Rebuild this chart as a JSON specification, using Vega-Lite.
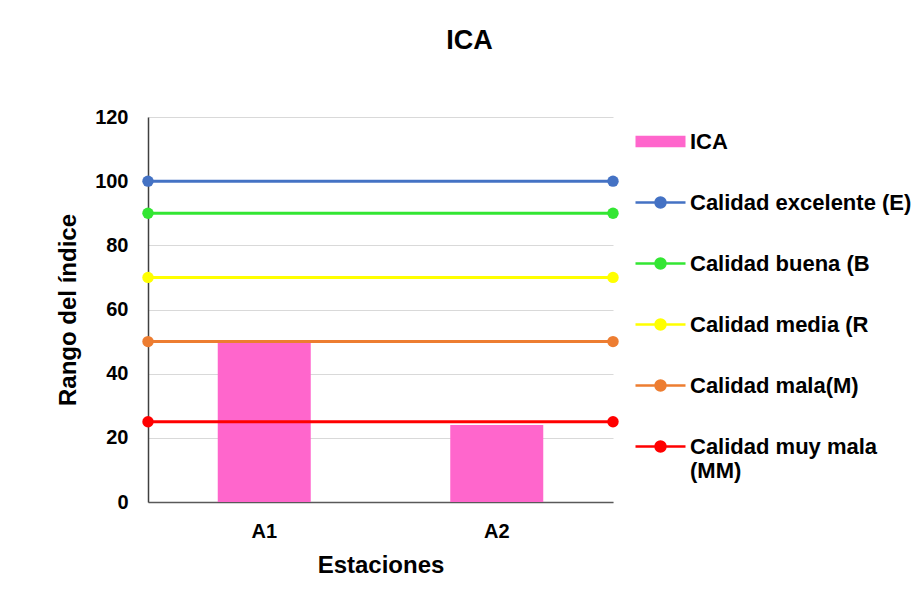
{
  "$schema": "https://vega.github.io/schema/vega-lite/v6.json",
  "width": 465,
  "height": 385,
  "autosize": {"type": "none"},
  "padding": {"left": 148, "top": 117, "right": 304, "bottom": 88},
  "background": "white",
  "config": {
    "font": "Liberation Sans",
    "view": {"stroke": null},
    "axis": {"labelFont": "Liberation Sans", "titleFont": "Liberation Sans", "labelFontWeight": "bold", "titleFontWeight": "bold", "labelColor": "#000000", "titleColor": "#000000", "ticks": false}
  },
  "title": {"text": "ICA", "font": "Liberation Sans", "fontSize": 27, "fontWeight": "bold", "color": "#000000", "anchor": "middle", "dx": 89, "offset": 52},
  "datasets": {
    "barras": [
      {"estacion": "A1", "valor": 50, "serie": "ICA"},
      {"estacion": "A2", "valor": 24, "serie": "ICA"}
    ],
    "lineas": [
      {"pos": 0, "valor": 100, "serie": "Calidad excelente (E)"},
      {"pos": 1, "valor": 100, "serie": "Calidad excelente (E)"},
      {"pos": 0, "valor": 90, "serie": "Calidad buena (B"},
      {"pos": 1, "valor": 90, "serie": "Calidad buena (B"},
      {"pos": 0, "valor": 70, "serie": "Calidad media (R"},
      {"pos": 1, "valor": 70, "serie": "Calidad media (R"},
      {"pos": 0, "valor": 50, "serie": "Calidad mala(M)"},
      {"pos": 1, "valor": 50, "serie": "Calidad mala(M)"},
      {"pos": 0, "valor": 25, "serie": "Calidad muy mala (MM)"},
      {"pos": 1, "valor": 25, "serie": "Calidad muy mala (MM)"}
    ]
  },
  "layer": [
    {
      "data": {"name": "barras"},
      "mark": {"type": "bar"},
      "encoding": {
        "x": {"field": "estacion", "type": "nominal", "scale": {"paddingInner": 0.6, "paddingOuter": 0.3},
          "axis": {"title": "Estaciones", "labelAngle": 0, "labelFontSize": 20, "labelPadding": 19, "titleFontSize": 24, "titlePadding": 12, "domainColor": "#595959", "domainWidth": 1.5}},
        "y": {"field": "valor", "type": "quantitative", "scale": {"domain": [0, 120]},
          "axis": {"title": "Rango del índice", "values": [0, 20, 40, 60, 80, 100, 120], "labelFontSize": 20, "labelPadding": 20, "titleFontSize": 24, "titlePadding": 14, "gridColor": "#d9d9d9", "domainColor": "#404040", "domainWidth": 1.5}},
        "color": {"field": "serie", "type": "nominal",
          "scale": {"domain": ["ICA", "Calidad excelente (E)", "Calidad buena (B", "Calidad media (R", "Calidad mala(M)", "Calidad muy mala (MM)"],
                    "range": ["#FF66CC", "#4472C4", "#33E633", "#FFFF00", "#ED7D31", "#FF0000"]},
          "legend": {
            "title": null, "orient": "none", "legendX": 486, "legendY": -2, "padding": 0,
            "symbolSize": 2500, "rowPadding": 23, "labelOffset": 3, "labelLimit": 400,
            "labelFont": "Liberation Sans", "labelFontSize": 22, "labelFontWeight": "bold", "labelColor": "#000000",
            "labelExpr": "datum.label == 'Calidad muy mala (MM)' ? ['Calidad muy mala', '(MM)'] : datum.label",
            "encode": {
              "symbols": {"update": {
                "shape": {"signal": "datum.value == 'ICA' ? 'M-0.95,-0.18H0.95V0.18H-0.95Z' : 'M-1,0H1M-0.2,0A0.2,0.2 0 1,0 0.2,0A0.2,0.2 0 1,0 -0.2,0Z'"},
                "fill": {"scale": "color", "field": "value"},
                "stroke": {"scale": "color", "field": "value"},
                "strokeWidth": {"value": 2.5},
                "opacity": {"value": 1},
                "fillOpacity": {"value": 1},
                "strokeOpacity": {"value": 1}
              }}
            }
          }
        }
      }
    },
    {
      "data": {"name": "lineas"},
      "mark": {"type": "line", "strokeWidth": 3, "point": {"filled": true, "size": 130, "opacity": 1}},
      "encoding": {
        "x": {"field": "pos", "type": "quantitative", "scale": {"domain": [0, 1], "nice": false, "zero": false}, "axis": null},
        "y": {"field": "valor", "type": "quantitative"},
        "color": {"field": "serie", "type": "nominal"}
      }
    }
  ],
  "resolve": {"scale": {"x": "independent"}}
}
